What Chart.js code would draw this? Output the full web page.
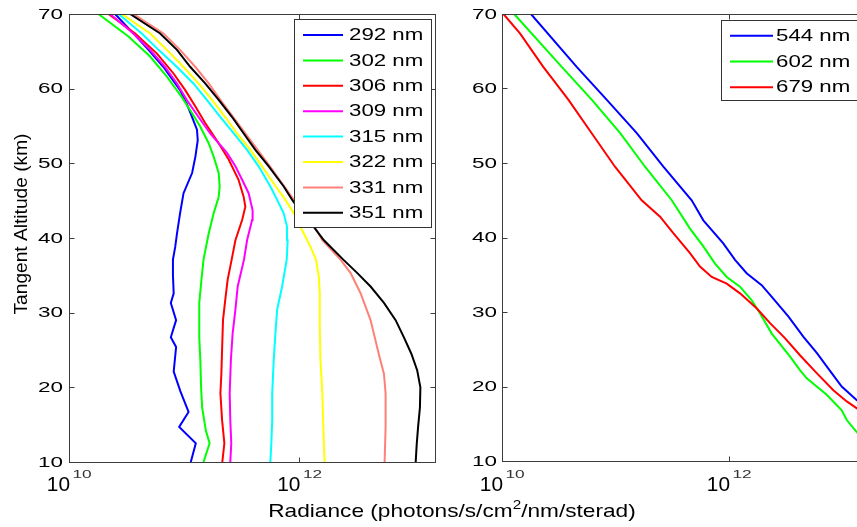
<!DOCTYPE html>
<html><head><meta charset="utf-8">
<script src="https://cdn.jsdelivr.net/npm/chart.js@4.4.0/dist/chart.umd.min.js"></script>
<style>
html,body{margin:0;padding:0;background:#fff;overflow:hidden;}
#wrap{position:relative;width:857px;height:527px;overflow:hidden;background:#fff;}
#c1{position:absolute;left:0;top:0;}
#c2{position:absolute;left:440px;top:0;}
</style></head><body>
<div id="wrap"><canvas id="c1" width="857" height="527"></canvas><canvas id="c2" width="440" height="527"></canvas></div>
<script>
// ---------- data: tangent altitude (km) and radiance (photons/s/cm2/nm/sterad) ----------
const alt292 = [10, 12.5, 14.7, 16.7, 19.5, 22.1, 25.4, 26.7, 29, 31.3, 32.6, 35, 37.1, 38.8, 40.6, 43.3, 46, 48.7, 50.9, 53.1, 54.5, 56.2, 58, 59.8, 62.9, 65.2, 67.4, 70];
const rad292 = [1.14e11, 1.26e11, 9.04e10, 1.09e11, 9.25e10, 8.1e10, 8.5e10, 7.65e10, 8.5e10, 7.65e10, 8.1e10, 7.98e10, 7.98e10, 8.35e10, 8.65e10, 9.2e10, 9.86e10, 1.17e11, 1.25e11, 1.31e11, 1.29e11, 1.17e11, 1.05e11, 9.2e10, 6.6e10, 4.9e10, 3.62e10, 2.51e10];
const alt302 = [10, 12.5, 14.2, 17.3, 20, 23.6, 26.7, 31.3, 34.4, 37.1, 40.6, 43.3, 45.5, 46.9, 48.7, 50.9, 52.7, 54.9, 56.7, 58.9, 61.6, 64.3, 67, 70];
const rad302 = [1.47e11, 1.66e11, 1.54e11, 1.43e11, 1.40e11, 1.38e11, 1.35e11, 1.35e11, 1.41e11, 1.47e11, 1.63e11, 1.80e11, 1.99e11, 2.03e11, 1.99e11, 1.80e11, 1.63e11, 1.38e11, 1.17e11, 9.5e10, 7.07e10, 5.06e10, 3.28e10, 1.80e10];
const alt306 = [10, 12.5, 15.6, 19.2, 21.8, 25, 29, 31.7, 34.4, 37.1, 39.7, 42.4, 44.2, 45.5, 47.8, 50.5, 52.7, 55.4, 57.6, 59.8, 62, 64.7, 67.4, 70];
const rad306 = [2.14e11, 2.23e11, 2.13e11, 2.06e11, 2.10e11, 2.13e11, 2.17e11, 2.27e11, 2.38e11, 2.58e11, 2.78e11, 3.18e11, 3.39e11, 3.28e11, 2.96e11, 2.43e11, 1.99e11, 1.52e11, 1.25e11, 1.02e11, 8.1e10, 5.8e10, 3.75e10, 2.2e10];
const alt309 = [10, 12.5, 15.6, 19.2, 23.7, 27.2, 30.4, 33.5, 37.1, 39.7, 42.4, 43.7, 46, 47.8, 49.6, 51.4, 54, 56.2, 58.5, 60.7, 62.9, 65.2, 67.4, 70];
const rad309 = [2.51e11, 2.56e11, 2.51e11, 2.48e11, 2.54e11, 2.63e11, 2.78e11, 2.91e11, 3.3e11, 3.51e11, 3.88e11, 3.92e11, 3.62e11, 3.18e11, 2.78e11, 2.35e11, 1.68e11, 1.33e11, 1.05e11, 8.65e10, 6.83e10, 5.06e10, 3.62e10, 2.27e10];
const alt315 = [10, 12.5, 15.6, 19.2, 23.7, 27.2, 30.4, 33.5, 35.3, 37.1, 39.7, 41.5, 43.3, 45.1, 46.9, 49.6, 51.8, 54, 56.2, 58.5, 60.7, 62.9, 65.2, 67.4, 70];
const rad315 = [5.59e11, 5.7e11, 5.8e11, 5.8e11, 5.98e11, 6.18e11, 6.4e11, 7.07e11, 7.4e11, 7.75e11, 7.9e11, 7.8e11, 7.3e11, 6.4e11, 5.59e11, 4.42e11, 3.51e11, 2.69e11, 2.06e11, 1.57e11, 1.2e11, 8.65e10, 5.98e10, 4.28e10, 2.69e10];
const alt322 = [10, 14.7, 19.2, 23.7, 28.1, 32.6, 34.9, 37.1, 38.8, 40.6, 42.4, 43.3, 45.1, 47.3, 49.6, 51.8, 54, 56.2, 58.5, 60.7, 62.9, 65.2, 67.4, 70];
const rad322 = [1.65e12, 1.61e12, 1.58e12, 1.52e12, 1.50e12, 1.50e12, 1.47e12, 1.39e12, 1.25e12, 1.09e12, 9.55e11, 8.94e11, 7.55e11, 5.98e11, 4.74e11, 3.75e11, 2.87e11, 2.27e11, 1.74e11, 1.33e11, 9.86e10, 7.07e10, 5.06e10, 2.87e10];
const alt331 = [10, 14.7, 19.2, 21.8, 24.4, 26.2, 29, 32.6, 35.3, 37.1, 39.7, 41.5, 45.1, 49.6, 54, 58.5, 60.7, 62.9, 65.2, 67.4, 70];
const rad331 = [5.48e12, 5.59e12, 5.59e12, 5.41e12, 4.89e12, 4.58e12, 4.14e12, 3.39e12, 2.78e12, 2.27e12, 1.58e12, 1.35e12, 8.94e11, 5.54e11, 3.39e11, 2.06e11, 1.63e11, 1.25e11, 9.2e10, 6.6e10, 3.62e10];
const alt351 = [10, 12.3, 14.7, 17.3, 20, 22.3, 24.5, 26.7, 29, 31.3, 33.5, 35.3, 37.1, 39.7, 41.5, 43.3, 45.1, 46.9, 49.6, 51.8, 54, 56.2, 58.5, 60.7, 62.9, 65.2, 67.4, 70];
const rad351 = [1.02e13, 1.04e13, 1.07e13, 1.11e13, 1.12e13, 1.05e13, 9.35e12, 8.06e12, 6.83e12, 5.41e12, 4.14e12, 3.18e12, 2.4e12, 1.63e12, 1.33e12, 1.05e12, 8.65e11, 7.3e11, 5.41e11, 4.14e11, 3.28e11, 2.6e11, 1.99e11, 1.52e11, 1.13e11, 8.65e10, 6.18e10, 3.39e10];

const alt544 = [17.6, 18.2, 20, 21.8, 24.5, 26.7, 29.4, 32.3, 33.6, 35.2, 37, 39.2, 42.3, 45, 49.5, 54, 58.5, 62.9, 70];
const rad544 = [1.5e13, 1.33e13, 9.84e12, 8.03e12, 5.93e12, 4.51e12, 3.33e12, 2.30e12, 1.94e12, 1.43e12, 1.13e12, 8.9e11, 5.94e11, 4.69e11, 2.64e11, 1.54e11, 8.35e10, 4.55e10, 1.80e10];
const alt602 = [13.4, 13.9, 15.5, 16.8, 18.9, 21.1, 22.2, 24, 27.1, 29.8, 31.6, 33.4, 34.7, 36.5, 38.8, 41.2, 45, 49.5, 54, 58.5, 62.9, 70];
const rad602 = [1.42e13, 1.33e13, 1.09e13, 9.84e12, 7.26e12, 4.84e12, 4.22e12, 3.45e12, 2.38e12, 1.88e12, 1.58e12, 1.25e12, 9.55e11, 7.53e11, 5.94e11, 4.53e11, 3.13e11, 1.82e11, 1.10e11, 6.17e10, 3.36e10, 1.28e10];
const alt679 = [16.6, 17.1, 18, 19.5, 21.8, 24.2, 26.5, 28.5, 30.5, 32.5, 33.8, 34.7, 36.1, 37.9, 40.6, 42.8, 45, 49.5, 54, 58.5, 62.9, 67.4, 70];
const rad679 = [1.48e13, 1.33e13, 1.09e13, 8.3e12, 5.93e12, 4.22e12, 3.11e12, 2.30e12, 1.75e12, 1.25e12, 9.55e11, 7.04e11, 5.55e11, 4.53e11, 3.23e11, 2.47e11, 1.70e11, 9.9e10, 6.17e10, 3.84e10, 2.31e10, 1.44e10, 1.03e10];

const leftLabels = ['292 nm', '302 nm', '306 nm', '309 nm', '315 nm', '322 nm', '331 nm', '351 nm'];
const rightLabels = ['544 nm', '602 nm', '679 nm'];
const yTicks = [10, 20, 30, 40, 50, 60, 70];
const xTicks = [1e10, 1e12];
const xTickExp = ['10', '12'];
const xMin = 1e10, xMax = 1.5e13, yMin = 10, yMax = 70;
const xTitle = ['Radiance (photons/s/cm', '2', '/nm/sterad)'];
const yTitle = 'Tangent Altitude (km)';

// ---------- styles ----------
const leftColors = ['#0000ff', '#00ff00', '#ff0000', '#ff00ff', '#00ffff', '#ffff00', '#ff8078', '#000000'];
const rightColors = ['#0000ff', '#00ff00', '#ff0000'];
const FONT = '"Liberation Sans", Arial, Helvetica, sans-serif';
const AXC = '#3c3c3c';

const leftSeries = [[alt292, rad292], [alt302, rad302], [alt306, rad306], [alt309, rad309], [alt315, rad315], [alt322, rad322], [alt331, rad331], [alt351, rad351]];
const rightSeries = [[alt544, rad544], [alt602, rad602], [alt679, rad679]];

function drawText(ctx, s, x, y, size, o) {
  o = o || {};
  ctx.save();
  ctx.translate(x, y);
  if (o.rot) ctx.rotate(o.rot);
  ctx.scale(o.sx || 1, 1);
  ctx.font = size + 'px ' + FONT;
  ctx.textAlign = o.align || 'left';
  ctx.textBaseline = o.base || 'alphabetic';
  ctx.fillStyle = o.color || '#000';
  ctx.fillText(s, 0, 0);
  ctx.restore();
}
function textW(ctx, s, size, sx) {
  ctx.save(); ctx.font = size + 'px ' + FONT; const w = ctx.measureText(s).width * sx; ctx.restore(); return w;
}

function decorPlugin(cfg) {
  return {
    id: 'decor',
    afterDraw(chart) {
      const ctx = chart.ctx, a = chart.chartArea, xs = chart.scales.x, ys = chart.scales.y;
      const L = Math.floor(a.left) + 0.5, R = Math.floor(a.right) + 0.5, T = Math.floor(a.top) + 0.5, B = Math.floor(a.bottom) + 0.5;
      ctx.save();
      ctx.strokeStyle = AXC; ctx.lineWidth = 1;
      ctx.strokeRect(L, T, R - L, B - T);
      ctx.beginPath();
      yTicks.forEach(v => {
        const y = Math.round(ys.getPixelForValue(v)) + 0.5;
        ctx.moveTo(L, y); ctx.lineTo(L + 5, y);
        ctx.moveTo(R, y); ctx.lineTo(R - 5, y);
      });
      xTicks.forEach(v => {
        const x = Math.round(xs.getPixelForValue(v)) + 0.5;
        ctx.moveTo(x, B); ctx.lineTo(x, B - 5);
        ctx.moveTo(x, T); ctx.lineTo(x, T + 5);
      });
      ctx.stroke();
      ctx.restore();
      // y tick labels
      yTicks.forEach(v => {
        const y = ys.getPixelForValue(v);
        drawText(ctx, String(v), a.left - cfg.yLabGap, y + 0.5, 15.5, { align: 'right', base: 'middle', sx: 1.45 });
      });
      // x tick labels 10^n
      xTicks.forEach((v, i) => {
        const x = xs.getPixelForValue(v);
        drawText(ctx, '10', x + 1, 491, 19.5, { align: 'right', sx: 1.07 });
        drawText(ctx, xTickExp[i], x + 3.5, 477.5, 11.5, { align: 'left', sx: 1.5, color: '#333' });
      });
      // legend
      const lg = cfg.legend;
      ctx.save();
      ctx.fillStyle = '#fff';
      ctx.fillRect(lg.x0, lg.y0, lg.x1 - lg.x0, lg.y1 - lg.y0);
      ctx.strokeStyle = '#333'; ctx.lineWidth = 1;
      ctx.strokeRect(lg.x0, lg.y0, lg.x1 - lg.x0, lg.y1 - lg.y0);
      lg.labels.forEach((lab, i) => {
        const y = lg.row0 + i * lg.step;
        ctx.beginPath();
        ctx.strokeStyle = lg.colors[i]; ctx.lineWidth = 2;
        ctx.moveTo(lg.lx0, y); ctx.lineTo(lg.lx1, y); ctx.stroke();
        drawText(ctx, lab, lg.tx, y + 0.5, 17, { base: 'middle', sx: 1.31 });
      });
      ctx.restore();
      // axis titles
      if (cfg.titles) {
        drawText(ctx, yTitle, 27, 224, 18.5, { rot: -Math.PI / 2, align: 'center', sx: 1.035 });
        const sx = 1.225, big = 18.5, small = 12.5;
        const w1 = textW(ctx, xTitle[0], big, sx), w2 = textW(ctx, xTitle[1], small, sx), w3 = textW(ctx, xTitle[2], big, sx);
        let x = 452 - (w1 + w2 + w3) / 2;
        drawText(ctx, xTitle[0], x, 517, big, { sx }); x += w1;
        drawText(ctx, xTitle[1], x, 509, small, { sx }); x += w2;
        drawText(ctx, xTitle[2], x, 517, big, { sx });
      }
    }
  };
}

function makeChart(id, series, labels, colors, padding, cfg) {
  return new Chart(document.getElementById(id), {
    type: 'scatter',
    data: {
      datasets: series.map((s, i) => ({
        label: labels[i],
        data: s[0].map((h, k) => ({ x: s[1][k], y: h })),
        showLine: true,
        borderColor: colors[i],
        backgroundColor: colors[i],
        borderWidth: 2,
        pointRadius: 0,
        pointHoverRadius: 0,
        tension: 0,
        order: series.length - i
      }))
    },
    options: {
      responsive: false,
      devicePixelRatio: 1,
      animation: false,
      events: [],
      layout: { padding },
      scales: {
        x: { type: 'logarithmic', min: xMin, max: xMax, display: false },
        y: { type: 'linear', min: yMin, max: yMax, display: false }
      },
      plugins: { legend: { display: false }, tooltip: { enabled: false } }
    },
    plugins: [decorPlugin(cfg)]
  });
}

makeChart('c1', leftSeries, leftLabels, leftColors,
  { left: 69, right: 857 - 435, top: 14, bottom: 527 - 462 },
  { yLabGap: 6, titles: true,
    legend: { x0: 294.5, y0: 19.5, x1: 431.5, y1: 227.5, lx0: 303, lx1: 343, tx: 349, row0: 35, step: 25.4, labels: leftLabels, colors: leftColors } });

makeChart('c2', rightSeries, rightLabels, rightColors,
  { left: 62, right: 17.5, top: 14, bottom: 527 - 461 },
  { yLabGap: 5, titles: false,
    legend: { x0: 281.5, y0: 20.5, x1: 430.5, y1: 100.5, lx0: 290, lx1: 333, tx: 336, row0: 35.7, step: 25.8, labels: rightLabels, colors: rightColors } });
</script>
</body></html>
